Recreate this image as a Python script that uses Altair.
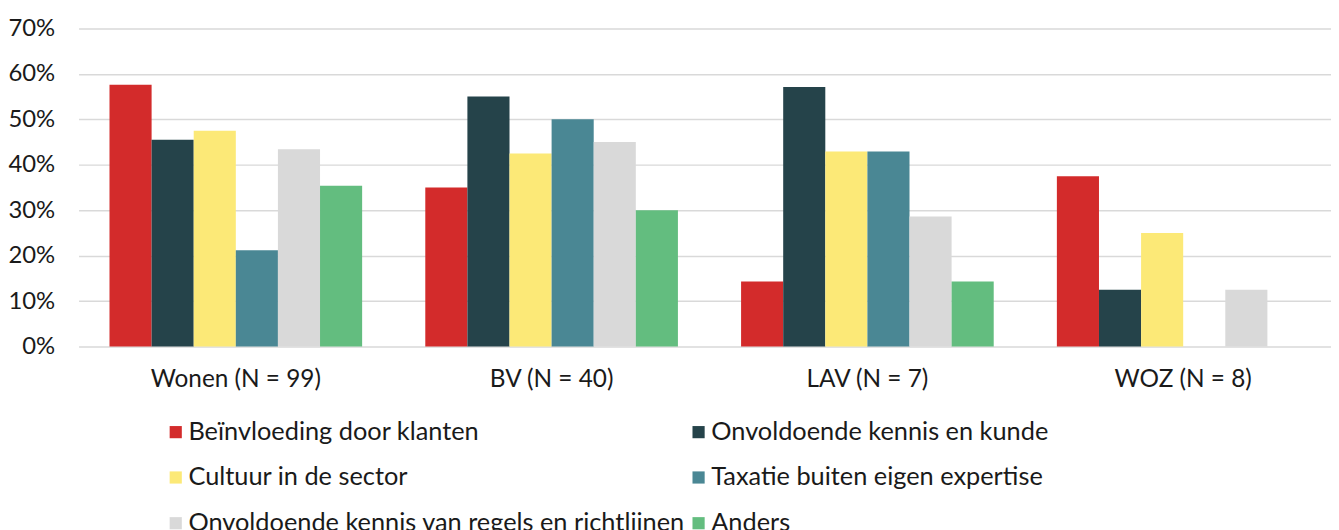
import altair as alt
import pandas as pd

groups = ["Wonen (N = 99)", "BV (N = 40)", "LAV (N = 7)", "WOZ (N = 8)"]
series = [
    "Beïnvloeding door klanten",
    "Onvoldoende kennis en kunde",
    "Cultuur in de sector",
    "Taxatie buiten eigen expertise",
    "Onvoldoende kennis van regels en richtlijnen",
    "Anders",
]
colors = ["#D32B2B", "#25434A", "#FCE977", "#4A8794", "#D9D9D9", "#63BD7F"]
values = {
    "Beïnvloeding door klanten": [57.6, 35.0, 14.3, 37.5],
    "Onvoldoende kennis en kunde": [45.5, 55.0, 57.1, 12.5],
    "Cultuur in de sector": [47.5, 42.5, 42.9, 25.0],
    "Taxatie buiten eigen expertise": [21.2, 50.0, 42.9, 0.0],
    "Onvoldoende kennis van regels en richtlijnen": [43.4, 45.0, 28.6, 12.5],
    "Anders": [35.4, 30.0, 14.3, 0.0],
}

rows = []
for s in series:
    for g, v in zip(groups, values[s]):
        rows.append({"groep": g, "reeks": s, "waarde": v / 100})
df = pd.DataFrame(rows)

FONT = "Lato"

chart = (
    alt.Chart(df)
    .mark_bar()
    .encode(
        x=alt.X(
            "groep:N",
            sort=groups,
            title=None,
            scale=alt.Scale(paddingInner=0.2, paddingOuter=0.083, align=0.59),
            axis=alt.Axis(
                labelAngle=0,
                labelFontSize=24.5,
                labelColor="#1a1a1a",
                labelFont=FONT,
                labelPadding=21,
                ticks=False,
                domain=False,
                grid=False,
            ),
        ),
        xOffset=alt.XOffset("reeks:N", sort=series),
        y=alt.Y(
            "waarde:Q",
            title=None,
            scale=alt.Scale(domain=[0, 0.7]),
            axis=alt.Axis(
                format=".0%",
                values=[0, 0.1, 0.2, 0.3, 0.4, 0.5, 0.6, 0.7],
                labelFontSize=24,
                labelColor="#1a1a1a",
                labelFont=FONT,
                labelPadding=24,
                ticks=False,
                domain=False,
                gridColor="#D9D9D9",
                gridWidth=1.5,
            ),
        ),
        color=alt.Color(
            "reeks:N",
            sort=series,
            scale=alt.Scale(domain=series, range=colors),
            legend=alt.Legend(
                title=None,
                orient="none",
                legendX=85,
                legendY=393,
                columns=2,
                direction="horizontal",
                symbolType="square",
                symbolSize=150,
                symbolStrokeWidth=0,
                labelFontSize=25.5,
                labelFont=FONT,
                labelColor="#1a1a1a",
                labelLimit=800,
                labelOffset=0,
                rowPadding=19,
                columnPadding=0,
            ),
        ),
    )
    .properties(
        width=1260,
        height=320,
        autosize=alt.AutoSizeParams(type="none"),
        padding={"left": 71, "top": 19, "right": 0, "bottom": 183},
    )
    .configure_view(stroke=None)
)

chart.save("out.html", embed_options={"renderer": "svg", "actions": False})
